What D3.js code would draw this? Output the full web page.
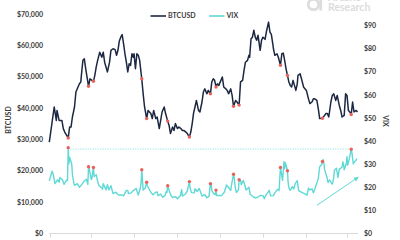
<!DOCTYPE html>
<html>
<head>
<meta charset="utf-8">
<script src="https://cdn.jsdelivr.net/npm/d3@7"></script>
<style>
	body { margin: 0; background: #fff; }
	svg { display: block; font-family: Lato, "Open Sans", sans-serif; }
</style>
</head>
<body>
<div id="chart"></div>
<script>
// days counted from 2021-01-01
const btcDay = [-1, 6, 9, 10, 13, 17, 19, 21, 26, 28, 30, 32, 35, 37, 40, 42, 44, 45, 47, 49, 51, 55, 57, 62, 64, 66, 68, 71, 74, 76, 78, 82, 85, 87, 90, 93, 95, 97, 99, 101, 103, 105, 107, 109, 111, 113, 115, 117, 119, 120, 122, 124, 126, 128, 131, 133, 135, 138, 140, 142, 144, 146, 148, 151, 153, 156, 158, 160, 163, 165, 168, 170, 172, 175, 177, 179, 182, 184, 187, 189, 191, 194, 196, 199, 201, 203, 205, 207, 209, 212, 214, 217, 219, 221, 224, 226, 229, 231, 233, 235, 237, 239, 241, 244, 246, 248, 251, 253, 255, 258, 260, 262, 265, 267, 270, 272, 275, 277, 279, 282, 284, 285, 287, 289, 291, 293, 295, 297, 300, 302, 304, 307, 309, 312, 314, 316, 318, 319, 321, 324, 326, 329, 331, 333, 335, 337, 339, 341, 343, 345, 347, 349, 351, 353, 354, 357, 359, 362, 364, 366, 369, 371, 374, 376, 378, 381, 383, 385, 389, 391, 394, 396, 398, 401, 403, 405, 408, 410, 413, 415, 417, 420, 422, 424, 426, 428, 430, 432, 434, 437, 439];
const btcPrice = [29200, 40400, 36100, 39300, 36100, 36100, 33500, 32400, 30500, 34000, 34000, 37200, 40400, 45200, 46800, 47800, 48400, 51000, 55300, 55800, 52600, 47000, 49400, 48600, 50500, 53200, 55300, 57900, 56300, 57900, 54700, 51600, 54700, 58500, 59000, 58700, 56900, 58500, 61500, 62700, 63500, 60600, 57400, 54700, 51600, 54200, 53700, 57400, 56300, 57400, 52600, 57400, 56900, 55300, 49400, 44600, 40400, 36700, 39300, 38800, 38300, 36700, 39300, 36700, 37200, 33500, 36100, 38800, 40400, 38300, 35900, 34500, 31900, 34000, 32900, 35100, 33500, 34000, 33500, 32900, 32900, 32400, 31900, 30800, 32400, 35100, 38500, 40400, 42500, 39300, 38800, 42000, 45200, 46200, 44600, 45700, 44600, 48400, 49400, 48900, 46800, 47800, 47300, 48900, 50000, 46800, 46200, 45700, 44600, 46200, 44100, 40600, 42500, 42000, 41000, 48400, 48900, 52100, 54700, 55300, 56900, 56300, 62200, 62700, 64900, 62700, 61700, 63300, 58500, 61700, 62700, 62000, 64500, 67500, 64300, 63600, 60600, 59000, 56900, 57400, 56300, 53700, 57400, 57600, 55300, 52600, 50500, 48400, 47300, 46800, 48900, 47300, 45700, 47800, 50500, 51000, 49400, 46800, 46200, 45700, 43000, 41500, 42000, 43000, 43000, 42500, 39900, 36700, 36800, 37400, 38300, 38300, 37200, 42000, 44100, 44600, 42500, 44100, 40900, 39300, 37200, 37700, 44600, 44100, 39300, 38800, 38000, 42000, 38800, 39300, 38800];

const vixDay = [-1, 3, 5, 7, 11, 13, 14, 18, 20, 24, 25, 26, 27, 28, 31, 32, 34, 35, 39, 42, 46, 48, 52, 54, 55, 56, 59, 60, 61, 62, 63, 66, 68, 70, 73, 75, 76, 80, 82, 84, 87, 90, 94, 96, 98, 102, 105, 109, 111, 112, 116, 119, 123, 126, 129, 130, 131, 132, 133, 136, 138, 139, 143, 145, 147, 151, 153, 154, 158, 161, 164, 166, 167, 168, 171, 173, 175, 179, 182, 186, 188, 189, 193, 196, 199, 200, 202, 206, 207, 210, 213, 215, 217, 221, 224, 227, 229, 230, 231, 234, 236, 237, 238, 242, 245, 249, 252, 256, 258, 259, 262, 263, 264, 266, 269, 270, 272, 273, 276, 278, 280, 284, 286, 291, 294, 298, 300, 304, 306, 308, 313, 315, 319, 321, 325, 327, 329, 332, 333, 334, 335, 336, 339, 340, 341, 343, 346, 348, 350, 353, 355, 360, 364, 367, 369, 371, 374, 376, 378, 382, 383, 385, 388, 389, 390, 391, 392, 395, 397, 399, 403, 405, 406, 409, 411, 413, 417, 418, 419, 420, 423, 424, 425, 427, 430, 431, 432, 433, 434, 437, 438];
const vixValue = [22.8, 27.0, 25.1, 21.6, 23.3, 22.2, 24.3, 23.2, 21.3, 23.2, 23.0, 37.2, 30.2, 33.1, 30.2, 25.6, 21.8, 20.9, 21.6, 20.0, 21.5, 22.5, 23.5, 21.3, 28.9, 28.0, 23.4, 24.1, 26.7, 28.6, 24.7, 25.5, 22.6, 20.7, 20.0, 19.2, 21.6, 18.9, 21.2, 18.9, 20.7, 17.3, 17.9, 17.2, 16.7, 16.7, 16.3, 18.7, 18.7, 17.3, 17.6, 18.6, 19.5, 16.7, 19.7, 21.8, 27.6, 23.1, 18.8, 19.7, 22.2, 20.7, 18.4, 17.4, 16.8, 17.9, 18.0, 16.4, 17.1, 15.7, 16.4, 18.2, 17.8, 20.7, 17.9, 16.3, 15.6, 16.0, 15.1, 16.4, 19.0, 16.2, 17.0, 18.5, 22.5, 19.7, 17.7, 17.6, 19.4, 18.2, 19.5, 18.0, 16.2, 16.8, 15.5, 16.1, 21.6, 21.7, 18.6, 17.2, 16.8, 18.8, 16.4, 16.5, 16.4, 18.0, 21.0, 19.5, 18.7, 20.8, 25.7, 24.4, 20.9, 17.8, 18.8, 23.3, 23.1, 21.2, 23.0, 21.0, 18.8, 20.0, 16.9, 15.7, 15.4, 16.0, 16.5, 16.4, 15.1, 16.5, 18.7, 16.3, 16.4, 17.6, 19.2, 18.6, 28.6, 23.0, 27.2, 31.1, 28.0, 30.7, 27.2, 21.9, 19.9, 18.7, 20.3, 19.3, 21.6, 22.9, 18.6, 17.7, 17.2, 16.6, 19.7, 18.8, 19.4, 17.6, 19.2, 22.8, 23.9, 28.9, 29.9, 31.2, 32.0, 30.5, 27.7, 24.8, 22.1, 23.2, 21.4, 23.9, 27.4, 28.3, 24.3, 27.8, 28.8, 31.0, 30.3, 27.6, 30.2, 33.3, 29.6, 32.0, 36.5, 35.1, 32.5, 30.2, 30.8, 31.8, 32.5];

// days where VIX spiked, marked on both series
const spikeDays = [26, 55, 62, 131, 138, 168, 199, 229, 237, 262, 270, 329, 339, 389, 430];

const btcTicks = [0, 10000, 20000, 30000, 40000, 50000, 60000, 70000];
const vixTicks = [0, 10, 20, 30, 40, 50, 60, 70, 80, 90];
const monthTicks = ["2021-01-01", "2021-03-01", "2021-05-01", "2021-07-01", "2021-09-01", "2021-11-01", "2022-01-01", "2022-03-01"];

// annotations
const refLine = { from: 26, to: 430, level: 36.6 };
const trendArrow = { from: [381, 12.2], to: [441, 24.6] };

const size = { w: 400, h: 240 };
const col = { btc: "#1c2741", vix: "#5fd9d5", dot: "#e9615b", text: "#3c3c3c", axis: "#d9d9d9", mark: "#dcdcdc" };

const day0 = new Date(Date.UTC(2021, 0, 1));
const toDate = (d) => d3.utcDay.offset(day0, d);

const x = d3
	.scaleUtc()
	.domain([day0, new Date(Date.UTC(2022, 2, 1))])
	.range([50, 347]);
const yL = d3.scaleLinear().domain([0, 70000]).range([233.5, 14.3]);
const yR = d3.scaleLinear().domain([0, 95]).range([233.5, 14.3]);

const btc = btcDay.map((d, i) => ({ date: toDate(d), day: d, v: btcPrice[i] }));
const vix = vixDay.map((d, i) => ({ date: toDate(d), day: d, v: vixValue[i] }));

const svg = d3
	.select("#chart")
	.append("svg")
	.attr("width", size.w)
	.attr("height", size.h);

// watermark
const wm = svg.append("g").attr("fill", col.mark);
wm.append("circle")
	.attr("cx", 313.5)
	.attr("cy", 4.5)
	.attr("r", 5.2)
	.attr("fill", "none")
	.attr("stroke", col.mark)
	.attr("stroke-width", 2.8);
wm.append("rect").attr("x", 319.3).attr("y", -4).attr("width", 2.8).attr("height", 14.5);
wm.append("text")
	.attr("x", 328)
	.attr("y", 0.5)
	.attr("font-size", 10.5)
	.attr("font-weight", 700)
	.text("Arcane");
wm.append("text")
	.attr("x", 328)
	.attr("y", 10.5)
	.attr("font-size", 10.5)
	.attr("font-weight", 700)
	.text("Research");

// x baseline + ticks
svg.append("line")
	.attr("x1", x(toDate(-1)))
	.attr("x2", x(toDate(440)))
	.attr("y1", 233.5)
	.attr("y2", 233.5)
	.attr("stroke", col.axis);
svg.append("g")
	.selectAll("line")
	.data(monthTicks)
	.join("line")
	.attr("x1", (d) => Math.round(x(new Date(d))) + 0.5)
	.attr("x2", (d) => Math.round(x(new Date(d))) + 0.5)
	.attr("y1", 233.5)
	.attr("y2", 237.5)
	.attr("stroke", col.axis);

// y tick labels
svg.append("g")
	.selectAll("text")
	.data(btcTicks)
	.join("text")
	.attr("x", 43)
	.attr("y", (d) => yL(d))
	.attr("dy", "0.35em")
	.attr("text-anchor", "end")
	.attr("font-size", 7)
	.attr("font-weight", 700)
	.attr("fill", col.text)
	.text((d) => d3.format("$,")(d));

svg.append("g")
	.selectAll("text")
	.data(vixTicks)
	.join("text")
	.attr("x", 364)
	.attr("y", (d) => yR(d))
	.attr("dy", "0.35em")
	.attr("font-size", 7)
	.attr("font-weight", 700)
	.attr("fill", col.text)
	.text((d) => "$" + d);

svg.append("text")
	.attr("transform", "translate(11, 120) rotate(-90)")
	.attr("text-anchor", "middle")
	.attr("font-size", 7)
	.attr("font-weight", 700)
	.attr("fill", col.text)
	.text("BTCUSD");
svg.append("text")
	.attr("transform", "translate(383, 121) rotate(90)")
	.attr("text-anchor", "middle")
	.attr("font-size", 7)
	.attr("font-weight", 700)
	.attr("fill", col.text)
	.text("VIX");

// legend
const legend = [
	{ name: "BTCUSD", color: col.btc, x: 150.5 },
	{ name: "VIX", color: col.vix, x: 209 },
];
const lg = svg.append("g").selectAll("g").data(legend).join("g");
lg.append("line")
	.attr("x1", (d) => d.x)
	.attr("x2", (d) => d.x + 15.5)
	.attr("y1", 16)
	.attr("y2", 16)
	.attr("stroke", (d) => d.color)
	.attr("stroke-width", 1.6);
lg.append("text")
	.attr("x", (d) => d.x + 17.5)
	.attr("y", 16)
	.attr("dy", "0.35em")
	.attr("font-size", 7)
	.attr("font-weight", 700)
	.attr("fill", col.text)
	.text((d) => d.name);

// reference level
svg.append("line")
	.attr("x1", x(toDate(refLine.from)) + 2)
	.attr("x2", x(toDate(refLine.to)))
	.attr("y1", yR(refLine.level))
	.attr("y2", yR(refLine.level))
	.attr("stroke", col.vix)
	.attr("stroke-width", 0.8)
	.attr("stroke-dasharray", "1,1.5");

// series lines
const lineL = d3.line().x((d) => x(d.date)).y((d) => yL(d.v));
const lineR = d3.line().x((d) => x(d.date)).y((d) => yR(d.v));

svg.append("path")
	.datum(vix)
	.attr("d", lineR)
	.attr("fill", "none")
	.attr("stroke", col.vix)
	.attr("stroke-width", 1.4)
	.attr("stroke-linejoin", "round");
svg.append("path")
	.datum(btc)
	.attr("d", lineL)
	.attr("fill", "none")
	.attr("stroke", col.btc)
	.attr("stroke-width", 1.5)
	.attr("stroke-linejoin", "round");

// spike markers
const btcSpikes = btc.filter((d) => spikeDays.includes(d.day));
const vixSpikes = vix.filter((d) => spikeDays.includes(d.day));
svg.append("g")
	.selectAll("circle")
	.data(btcSpikes)
	.join("circle")
	.attr("cx", (d) => x(d.date))
	.attr("cy", (d) => yL(d.v))
	.attr("r", 1.7)
	.attr("fill", col.dot);
svg.append("g")
	.selectAll("circle")
	.data(vixSpikes)
	.join("circle")
	.attr("cx", (d) => x(d.date))
	.attr("cy", (d) => yR(d.v))
	.attr("r", 1.7)
	.attr("fill", col.dot);

// trend arrow
const ax1 = x(toDate(trendArrow.from[0]));
const ay1 = yR(trendArrow.from[1]);
const ax2 = x(toDate(trendArrow.to[0]));
const ay2 = yR(trendArrow.to[1]);
const ang = Math.atan2(ay2 - ay1, ax2 - ax1);
svg.append("line")
	.attr("x1", ax1)
	.attr("y1", ay1)
	.attr("x2", ax2 - 3 * Math.cos(ang))
	.attr("y2", ay2 - 3 * Math.sin(ang))
	.attr("stroke", col.vix)
	.attr("stroke-width", 1);
svg.append("path")
	.attr("d", "M0,0 L-5,-2.3 L-5,2.3 Z")
	.attr("transform", `translate(${ax2}, ${ay2}) rotate(${(ang * 180) / Math.PI})`)
	.attr("fill", col.vix);
</script>
</body>
</html>
